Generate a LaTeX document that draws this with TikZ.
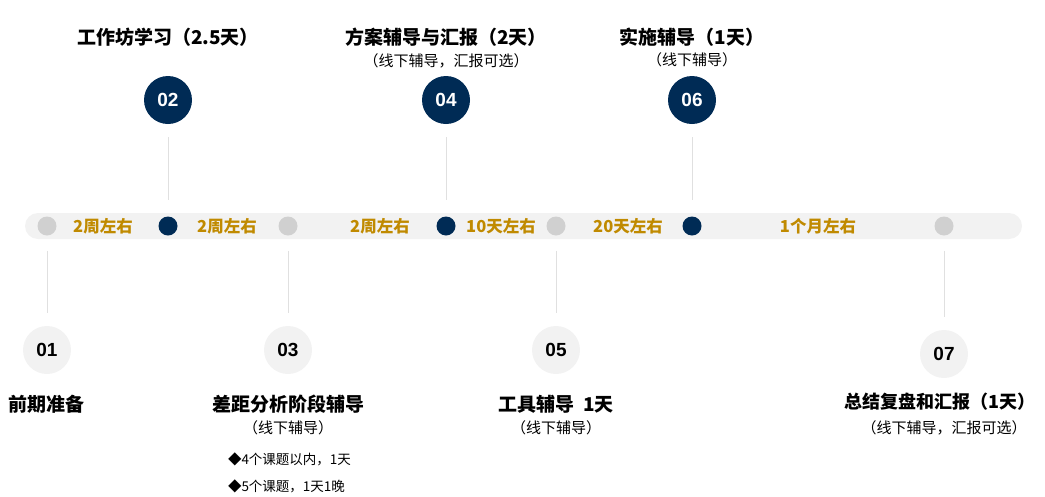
\documentclass[tikz,border=0pt]{standalone}
\usepackage{fontspec}
\setmainfont{Noto Sans CJK SC}
\newfontfamily\numfont{Liberation Sans}
\definecolor{navy}{HTML}{002B55}
\definecolor{gold}{HTML}{C08A00}
\definecolor{barbg}{HTML}{F2F2F2}
\definecolor{dotgray}{HTML}{D0D0D0}
\begin{document}
\begin{tikzpicture}[
    x=1pt, y=-1pt,
    every node/.style = {inner sep=0pt, outer sep=0pt},
    darkdot/.style = {circle, fill=navy, minimum size=19pt},
    greydot/.style = {circle, fill=dotgray, minimum size=19pt},
    topstep/.style = {circle, fill=navy, minimum size=48pt, text=white,
      font=\numfont\fontsize{19}{22}\selectfont\bfseries},
    lowstep/.style = {circle, fill=barbg, minimum size=48pt, text=black,
      font=\numfont\fontsize{19}{22}\selectfont\bfseries},
    span/.style = {text=gold, font=\fontsize{16.5}{19}\selectfont\bfseries},
    title/.style = {font=\fontsize{19}{22}\selectfont\bfseries},
    note/.style = {font=\fontsize{15}{18}\selectfont},
    link/.style = {draw=black!12, line width=0.8pt},
    ]
  \useasboundingbox (0,0) rectangle (1045,496);

  % timeline bar
  \node (bar) [fill=barbg, rounded corners=13pt, minimum width=997pt,
    minimum height=26pt] at (523.5,226) {};

  % dots on the bar
  \node (d1) [greydot] at (47,226) {};
  \node (d2) [darkdot] at (168,226) {};
  \node (d3) [greydot] at (288,226) {};
  \node (d4) [darkdot] at (446,226) {};
  \node (d5) [greydot] at (556,226) {};
  \node (d6) [darkdot] at (692,226) {};
  \node (d7) [greydot] at (944,226) {};

  % durations
  \node (s1) [span] at (103,226) {2周左右};
  \node (s2) [span] at (227,226) {2周左右};
  \node (s3) [span] at (380,226) {2周左右};
  \node (s4) [span] at (501,226) {10天左右};
  \node (s5) [span] at (628,226) {20天左右};
  \node (s6) [span] at (818,226) {1个月左右};

  % upper steps
  \node (c2) [topstep] at (168,100) {02};
  \node (c4) [topstep] at (446,100) {04};
  \node (c6) [topstep] at (692,100) {06};
  \foreach \n in {2,4,6}
    \draw [link, shorten <=13pt, shorten >=17pt] (c\n) -- (d\n);

  \node (t2) [title] at (168,37) {工作坊学习（2.5天）};
  \node (t4) [title] at (446,37) {方案辅导与汇报（2天）};
  \node (n4) [note] at (446,61) {（线下辅导，汇报可选）};
  \node (t6) [title] at (692,37) {实施辅导（1天）};
  \node (n6) [note] at (692,60) {（线下辅导）};

  % lower steps
  \node (c1) [lowstep] at (47,350) {01};
  \node (c3) [lowstep] at (288,350) {03};
  \node (c5) [lowstep] at (556,350) {05};
  \node (c7) [lowstep] at (944,354) {07};
  \foreach \n in {1,3,5,7}
    \draw [link, shorten <=15pt, shorten >=13pt] (d\n) -- (c\n);

  \node (t1) [title] at (47,404) {前期准备};
  \node (t3) [title] at (288,404) {差距分析阶段辅导};
  \node (n3) [note] at (288,428) {（线下辅导）};
  \node (b1) [note, font=\fontsize{13.5}{16}\selectfont, anchor=west]
    at (228,459) {◆4个课题以内，1天};
  \node (b2) [note, font=\fontsize{13.5}{16}\selectfont, anchor=west]
    at (228,486) {◆5个课题，1天1晚};
  \node (t5) [title] at (556,404) {工具辅导\ \ 1天};
  \node (n5) [note] at (556,428) {（线下辅导）};
  \node (t7) [title, font=\fontsize{18}{21}\selectfont\bfseries]
    at (940,402) {总结复盘和汇报（1天）};
  \node (n7) [note] at (944,428) {（线下辅导，汇报可选）};
\end{tikzpicture}
\end{document}
